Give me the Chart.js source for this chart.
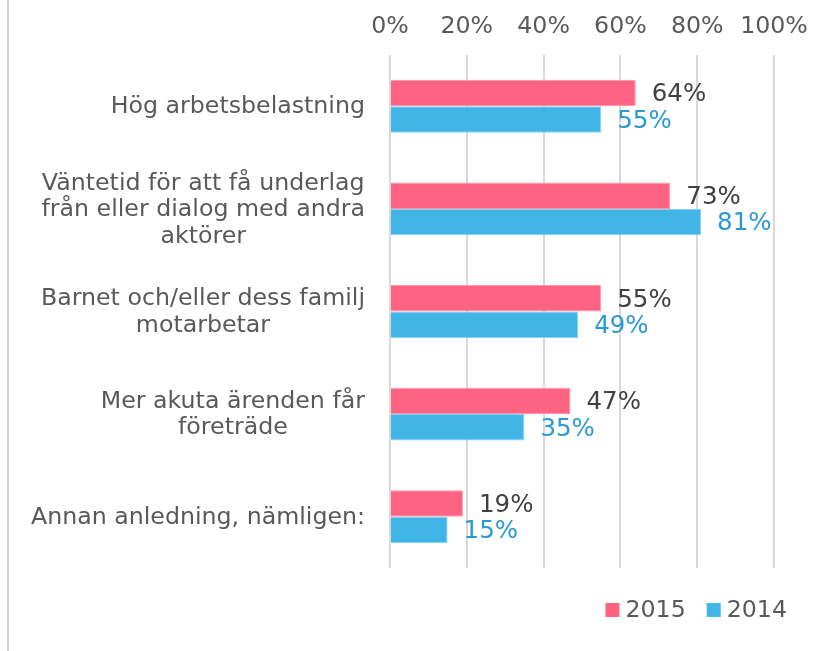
<!DOCTYPE html>
<html>
<head>
<meta charset="utf-8">
<script src="https://cdn.jsdelivr.net/npm/chart.js@4/dist/chart.umd.min.js"></script>
<style>
  html, body { margin: 0; padding: 0; background: #fff; }
  #wrap { position: relative; width: 834px; height: 651px; }
  #edge { position: absolute; left: 7px; top: 0; width: 2px; height: 651px; background: #d0d0d0; }
  canvas { position: absolute; left: 0; top: 0; }
</style>
</head>
<body>
<div id="wrap">
  <div id="edge"></div>
  <canvas id="c" width="834" height="651"></canvas>
</div>
<script>
const FONT = "'DejaVu Sans', Verdana, sans-serif";
const TXT = "#595959";

const categories = [
  ["Hög arbetsbelastning"],
  ["Väntetid för att få underlag", "från eller dialog med andra", "aktörer"],
  ["Barnet och/eller dess familj", "motarbetar"],
  ["Mer akuta ärenden får", "företräde"],
  ["Annan anledning, nämligen:"],
];
const seriesNames = ["2015", "2014"];
const values2015 = [64, 73, 55, 47, 19];
const values2014 = [55, 81, 49, 35, 15];
const ticksX = [0, 20, 40, 60, 80, 100];

const barColors = ["#fe6382", "#41b6e6"];
const edgeColors = ["#ff94aa", "#86d2f0"];
const valueColors = ["#404040", "#2a9ad2"];

// category labels: right-aligned block, lines centered inside it
// value labels next to each bar, and a custom bottom-right legend
const decor = {
  id: "decor",
  afterDatasetsDraw(chart) {
    const ctx = chart.ctx, y = chart.scales.y;
    ctx.save();
    ctx.font = `23.7px ${FONT}`;
    ctx.textBaseline = "middle";

    ctx.fillStyle = TXT;
    ctx.textAlign = "center";
    const right = 365, lh = 26.5;
    categories.forEach((lines, i) => {
      const w = Math.max(...lines.map((l) => ctx.measureText(l).width));
      const cx = right - w / 2;
      const cy = y.getPixelForValue(i);
      lines.forEach((l, k) => ctx.fillText(l, cx, cy + (k - (lines.length - 1) / 2) * lh + 1));
    });

    ctx.textAlign = "left";
    ctx.font = `24.5px ${FONT}`;
    chart.data.datasets.forEach((ds, d) => {
      ctx.fillStyle = valueColors[d];
      chart.getDatasetMeta(d).data.forEach((bar, i) => {
        ctx.fillText(ds.data[i] + "%", bar.x + 16, bar.y + 2);
      });
    });

    // legend
    ctx.font = `23.7px ${FONT}`;
    const ly = 610, box = 14;
    let x = 787;
    const items = chart.data.datasets.map((ds) => ({ label: ds.label, color: ds.backgroundColor }));
    const widths = items.map((it) => ctx.measureText(it.label).width);
    const total = items.reduce((s, it, i) => s + box + 6 + widths[i], 0) + 21 * (items.length - 1);
    x -= total;
    items.forEach((it, i) => {
      ctx.fillStyle = it.color;
      ctx.fillRect(x, ly - box / 2, box, box);
      ctx.fillStyle = TXT;
      ctx.fillText(it.label, x + box + 6, ly + 1);
      x += box + 6 + widths[i] + 21;
    });
    ctx.restore();
  },
};

new Chart(document.getElementById("c"), {
  type: "bar",
  data: {
    labels: categories,
    datasets: [
      { label: seriesNames[0], data: values2015, backgroundColor: barColors[0], borderColor: edgeColors[0], borderWidth: 1 },
      { label: seriesNames[1], data: values2014, backgroundColor: barColors[1], borderColor: edgeColors[1], borderWidth: 1 },
    ],
  },
  options: {
    indexAxis: "y",
    responsive: false,
    animation: false,
    categoryPercentage: 0.516,
    barPercentage: 1,
    layout: { padding: { left: 390, right: 60, top: 0, bottom: 83 } },
    plugins: { legend: { display: false }, tooltip: { enabled: false } },
    scales: {
      x: {
        position: "top",
        min: 0,
        max: 100,
        afterBuildTicks: (s) => { s.ticks = ticksX.map((v) => ({ value: v })); },
        afterFit: (s) => { s.height = 55; },
        ticks: { color: TXT, font: { family: FONT, size: 23.7 }, padding: 14, callback: (v) => v + "%" },
        grid: { color: "#d9d9d9", lineWidth: 2, drawTicks: false },
        border: { display: false },
      },
      y: {
        afterFit: (s) => { s.width = 0; },
        ticks: { display: false },
        grid: { display: false },
        border: { display: false },
      },
    },
  },
  plugins: [decor],
});
</script>
</body>
</html>
